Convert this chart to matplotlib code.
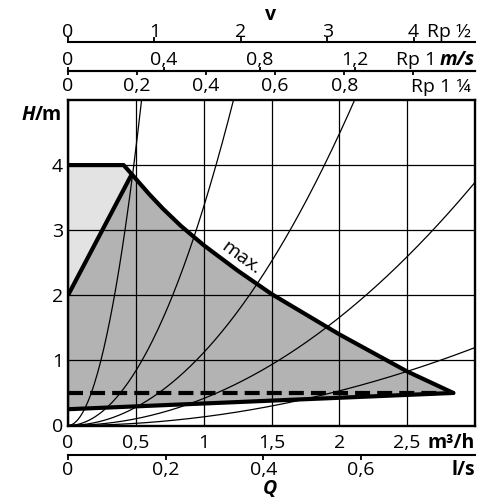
import matplotlib
matplotlib.use("Agg")
import matplotlib.pyplot as plt
import numpy as np

plt.rcParams['font.family'] = ['Open Sans', 'DejaVu Sans']
plt.rcParams['font.size'] = 14

# ---------------- data ----------------
q_ticks = [0, 0.5, 1, 1.5, 2, 2.5]
q_labels = ['0', '0,5', '1', '1,5', '2', '2,5']
h_ticks = [0, 1, 2, 3, 4]
h_labels = ['0', '1', '2', '3', '4']

ls_ticks = [0, 0.2, 0.4, 0.6]
ls_labels = ['0', '0,2', '0,4', '0,6']

v_rp12_ticks = [0, 1, 2, 3, 4]
v_rp12_labels = ['0', '1', '2', '3', '4']
v_rp1_ticks = [0, 0.4, 0.8, 1.2]
v_rp1_labels = ['0', '0,4', '0,8', '1,2']
v_rp114_ticks = [0, 0.2, 0.4, 0.6, 0.8, 1.0]
v_rp114_labels = ['0', '0,2', '0,4', '0,6', '0,8', '']

# conversion factors to m3/h (per m/s of velocity, per l/s)
conv_rp12 = 0.637
conv_rp1 = 1.765
conv_rp114 = 2.546
conv_ls = 3.6

max_q = [0, 0.41, 0.47, 0.6, 0.7, 0.83, 1.0, 1.25, 1.5, 2.0, 2.5, 2.84]
max_h = [4.0, 4.0, 3.86, 3.55, 3.33, 3.07, 2.77, 2.38, 2.02, 1.40, 0.83, 0.5]

left_q = [0, 0.47]
left_h = [2.0, 3.86]

min_q = [0, 2.84]
min_h = [0.25, 0.5]

dash_q = [0, 2.76]
dash_h = [0.5, 0.5]

system_k = [17.0, 3.36, 1.12, 0.415, 0.133]

# ---------------- figure ----------------
W_PX = 500
fig = plt.figure(figsize=(5, 5), dpi=100)

def fx(x):
    return x / W_PX

def fy(y):
    return 1 - y / W_PX

L, R = fx(68), fx(475)
AW = R - L
ax = fig.add_axes([L, fy(425.5), AW, fy(100) - fy(425.5)])
ax.set_xlim(0, 3)
ax.set_ylim(0, 5)
ax.set_xticks(q_ticks, q_labels)
ax.set_yticks(h_ticks, h_labels)
ax.tick_params(axis='x', length=0, pad=6.3)
ax.tick_params(axis='y', length=0, pad=3.5)
ax.grid(True, color='black', lw=0.9)
for s in ax.spines.values():
    s.set_linewidth(1.7)

# regions
light_x = [left_q[0]] + max_q[:3]
light_y = [left_h[0]] + max_h[:3]
ax.fill(light_x, light_y, color='#e3e3e3', lw=0, zorder=0.5)

dark_x = left_q + max_q[3:] + min_q[::-1]
dark_y = left_h + max_h[3:] + min_h[::-1]
ax.fill(dark_x, dark_y, color='#b3b3b3', lw=0, zorder=0.5)

# system curves
qq = np.linspace(0, 3, 400)
for k in system_k:
    ax.plot(qq, k * qq ** 2, color='black', lw=0.9, zorder=2)

# thick curves
ax.plot(max_q, max_h, color='black', lw=3, solid_joinstyle='round',
        solid_capstyle='round', zorder=3)
ax.plot(left_q, left_h, color='black', lw=3, solid_capstyle='butt', zorder=3)
ax.plot(min_q, min_h, color='black', lw=3, solid_capstyle='round', zorder=3)
ax.plot(dash_q, dash_h, color='black', lw=3, dashes=(3.6, 1.7),
        dash_capstyle='butt', zorder=3)

ax.text(1.277, 2.58, 'max.', rotation=-36, ha='center', va='center',
        rotation_mode='anchor', fontsize=14, zorder=4)


# ---------------- extra scales ----------------
def scale_axis(y_px, ticks, labels, conv, side, pad, length):
    a = fig.add_axes([L, fy(y_px), AW, 1e-5])
    a.set_xlim(0, 3)
    a.set_ylim(0, 1)
    a.patch.set_visible(False)
    for s in a.spines.values():
        s.set_visible(False)
    a.spines[side].set_visible(True)
    a.spines[side].set_linewidth(1.5)
    a.set_yticks([])
    a.xaxis.set_ticks_position(side)
    a.set_xticks([t * conv for t in ticks], labels)
    a.tick_params(axis='x', direction='out', length=length, width=1.3,
                  pad=pad)
    return a

scale_axis(42, v_rp12_ticks, v_rp12_labels, conv_rp12, 'top', -2.7, 3.5)
scale_axis(71, v_rp1_ticks, v_rp1_labels, conv_rp1, 'top', -1.7, 3)
scale_axis(71, v_rp114_ticks, v_rp114_labels, conv_rp114, 'bottom', 1.0, 3)
scale_axis(454.5, ls_ticks, ls_labels, conv_ls, 'bottom', 1.5, 3.5)

# ---------------- texts ----------------
renderer = fig.canvas.get_renderer()

def text_px(x, y, s, **kw):
    return fig.text(fx(x), fy(y), s, va='baseline', **kw)

text_px(271, 20, 'v', ha='center', fontweight='bold')
text_px(471, 37, 'Rp ½', ha='right')
t = text_px(475, 65, 'm/s', ha='right', fontweight='bold', fontstyle='italic')
bb = t.get_window_extent(renderer)
text_px(bb.x0 - 4, 65, 'Rp 1', ha='right')
text_px(471, 92, 'Rp 1 ¼', ha='right')

text_px(475, 448, 'm³/h', ha='right', fontweight='bold')
text_px(475, 475, 'l/s', ha='right', fontweight='bold')
text_px(270, 494, 'Q', ha='center', fontweight='bold', fontstyle='italic')

t = text_px(62, 120, '/m', ha='right', fontweight='bold')
bb = t.get_window_extent(renderer)
text_px(bb.x0, 120, 'H', ha='right', fontweight='bold', fontstyle='italic')

fig.savefig('out.png', dpi=100)
